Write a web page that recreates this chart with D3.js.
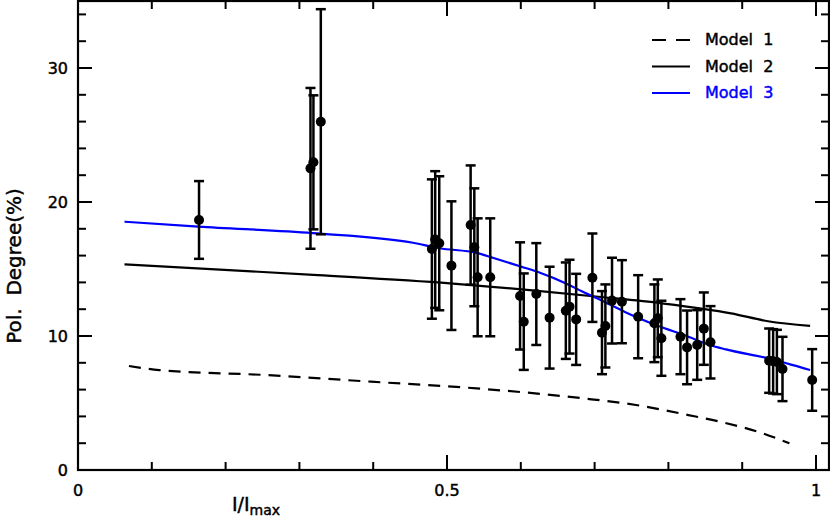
<!DOCTYPE html>
<html><head><meta charset="utf-8">
<script src="https://cdn.jsdelivr.net/npm/d3@7"></script>
<style>body{margin:0;background:#fff}svg{display:block}text{font-family:"DejaVu Sans",sans-serif}</style>
</head><body>
<svg id="c" width="830" height="521"></svg>
<script>
// Observed polarization degree vs I/Imax
const obsX = [0.164,0.315,0.319,0.329,0.4795,0.484,0.4895,0.506,0.532,0.537,0.5415,0.5586,0.599,0.604,0.621,0.639,0.661,0.666,0.675,0.697,0.710,0.7146,0.7236,0.737,0.759,0.781,0.7856,0.7905,0.8163,0.8253,0.839,0.848,0.857,0.9365,0.9419,0.947,0.9546,0.9948];
const obsY = [18.66,22.51,22.96,25.99,16.49,17.2,16.92,15.25,18.28,16.62,14.38,14.38,12.99,11.07,13.13,11.37,11.89,12.19,11.24,14.35,10.25,10.75,12.64,12.56,11.44,10.95,11.32,9.83,9.95,9.15,9.33,10.55,9.53,8.16,8.11,8.06,7.54,6.72];
const obsErr = [2.9,6.0,5.0,8.4,5.2,5.1,5.0,4.8,4.45,4.4,4.4,4.4,4.0,3.6,3.8,3.8,3.6,3.5,3.4,3.3,3.1,3.1,3.2,3.1,3.1,2.9,2.9,2.8,2.8,2.75,2.6,2.7,2.7,2.4,2.4,2.4,2.4,2.3];

const model1X = [0.069,0.11,0.253,0.397,0.54,0.684,0.756,0.827,0.87,0.921,0.964];
const model1Y = [7.76,7.46,7.09,6.59,6.09,5.35,4.85,4.1,3.6,2.86,1.99];
const model2X = [0.063,0.325,0.504,0.612,0.705,0.791,0.885,0.935,0.992];
const model2Y = [15.35,14.55,13.93,13.43,12.93,12.44,11.69,11.1,10.75];
const model3X = [0.063,0.163,0.318,0.454,0.49,0.54,0.562,0.601,0.626,0.659,0.684,0.713,0.741,0.784,0.827,0.856,0.878,0.935,0.992];
const model3Y = [18.53,18.16,17.68,16.96,16.55,16.2,15.84,15.17,14.72,13.98,13.3,12.56,11.8,10.8,9.95,9.33,9.0,8.33,7.46];

const legendLabels = ["Model 1","Model 2","Model 3"];
const legendColors = ["#000","#000","#0000ff"];
const legendDash = ["12,8",null,null];

const xTickLabels = ["0","0.5","1"];
const yTickLabels = ["0","10","20","30"];

const svg = d3.select("#c");
const L=78,R=829,T=1,B=470;
const x = d3.scaleLinear().domain([0,1.0176]).range([L,R]);
const y = d3.scaleLinear().domain([0,35]).range([B,T]);

const g = svg.append("g");
// ticks
const xMinor = d3.range(0,1.01,0.1);
const yMinor = d3.range(0,35,2);
const isMajX = v => Math.abs(v*2-Math.round(v*2))<1e-6;
const tk = g.append("g").attr("stroke","#000").attr("stroke-width",2);
xMinor.forEach(v=>{
  const len = isMajX(v)?15:8;
  tk.append("line").attr("x1",x(v)).attr("x2",x(v)).attr("y1",B).attr("y2",B-len);
  tk.append("line").attr("x1",x(v)).attr("x2",x(v)).attr("y1",T).attr("y2",T+len);
});
yMinor.forEach(v=>{
  const len = (v%10===0)?14:8;
  tk.append("line").attr("x1",L).attr("x2",L+len).attr("y1",y(v)).attr("y2",y(v));
  tk.append("line").attr("x1",R).attr("x2",R-len).attr("y1",y(v)).attr("y2",y(v));
});
// frame
g.append("rect").attr("x",L).attr("y",T).attr("width",R-L).attr("height",B-T)
 .attr("fill","none").attr("stroke","#000").attr("stroke-width",2.2);

const heavy = sel => sel.attr("stroke",sel.attr("fill")||"#000").attr("stroke-width",0.45);

// tick labels
xTickLabels.forEach(s=>{
  heavy(g.append("text").attr("x",x(+s)).attr("y",496).attr("text-anchor","middle")
   .attr("font-size",16).attr("fill","#000").text(s));
});
yTickLabels.forEach(s=>{
  heavy(g.append("text").attr("x",68).attr("y",y(+s)+6).attr("text-anchor","end")
   .attr("font-size",16).attr("fill","#000").text(s));
});
// axis titles
const xt = g.append("text").attr("x",232).attr("y",511).attr("font-size",19).attr("fill","#000");
heavy(xt);
xt.append("tspan").text("I/I");
xt.append("tspan").attr("dy",4).attr("font-size",14).text("max");
heavy(g.append("text").attr("transform","translate(21,266) rotate(-90)").attr("text-anchor","middle")
 .attr("font-size",20).attr("fill","#000").attr("xml:space","preserve").text("Pol.  Degree(%)"));

// model curves
const line = d3.line().x(d=>x(d[0])).y(d=>y(d[1])).curve(d3.curveMonotoneX);
const curves = [[model1X,model1Y],[model2X,model2Y],[model3X,model3Y]];
curves.forEach((c,i)=>{
  const pts = c[0].map((v,j)=>[v,c[1][j]]);
  const p = g.append("path").attr("d",line(pts)).attr("fill","none")
    .attr("stroke",legendColors[i]).attr("stroke-width",2.2);
  if(legendDash[i]) p.attr("stroke-dasharray",legendDash[i]);
});

// error bars + points
const eb = g.append("g").attr("stroke","#000").attr("stroke-width",2.5);
obsX.forEach((v,i)=>{
  const cx=x(v), y1=y(obsY[i]+obsErr[i]), y2=y(obsY[i]-obsErr[i]);
  eb.append("line").attr("x1",cx).attr("x2",cx).attr("y1",y1).attr("y2",y2);
  eb.append("line").attr("x1",cx-5).attr("x2",cx+5).attr("y1",y1).attr("y2",y1);
  eb.append("line").attr("x1",cx-5).attr("x2",cx+5).attr("y1",y2).attr("y2",y2);
});
g.append("g").selectAll("circle").data(obsX).join("circle")
 .attr("cx",d=>x(d)).attr("cy",(d,i)=>y(obsY[i])).attr("r",5).attr("fill","#000");

// legend
const legY=[40,66.5,93];
legendLabels.forEach((s,i)=>{
  const l = g.append("line").attr("x1",652).attr("x2",690).attr("y1",legY[i]).attr("y2",legY[i])
   .attr("stroke",legendColors[i]).attr("stroke-width",2.2);
  if(legendDash[i]) l.attr("stroke-dasharray","14,10");
  heavy(g.append("text").attr("x",705).attr("y",legY[i]+5).attr("font-size",16)
   .attr("fill",legendColors[i]).attr("xml:space","preserve").text(s.replace(" ","  ")));
});
</script>
</body></html>
